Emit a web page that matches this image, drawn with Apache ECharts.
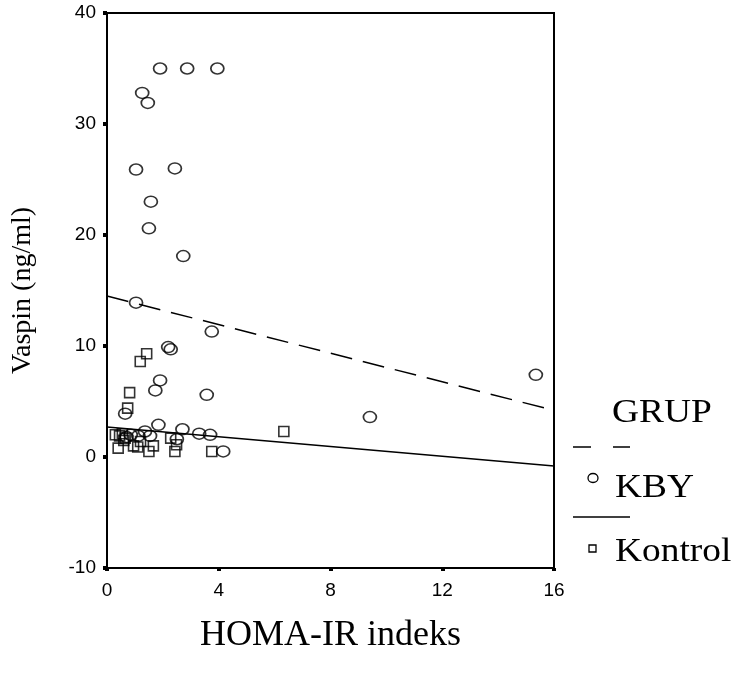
<!DOCTYPE html>
<html>
<head>
<meta charset="utf-8">
<script src="https://cdn.jsdelivr.net/npm/echarts@6/dist/echarts.min.js"></script>
<style>
  html, body { margin: 0; padding: 0; background: #fff; }
  #chart { width: 739px; height: 682px; }
</style>
</head>
<body>
<div id="chart"></div>
<script>
// KBY grubu
const kbyX = [1.90, 2.87, 3.95, 1.26, 1.46, 1.04, 2.43, 1.57, 1.50, 2.73, 1.04, 3.75, 2.19, 2.28, 1.90, 1.73,
  3.57, 0.65, 1.84, 2.70, 3.30, 3.69, 4.16, 1.36, 1.54, 1.12, 2.50, 0.70, 0.85, 9.41, 15.35]
const kbyY = [35.0, 35.0, 35.0, 32.8, 31.9, 25.9, 26.0, 23.0, 20.6, 18.1, 13.9, 11.3, 9.9, 9.7, 6.9, 6.0,
  5.6, 3.9, 2.9, 2.5, 2.1, 2.0, 0.5, 2.3, 1.9, 1.9, 1.6, 1.8, 2.0, 3.6, 7.4]

// Kontrol grubu
const kontrolX = [1.42, 1.19, 0.81, 0.74, 6.33, 0.30, 0.45, 0.55, 0.65, 0.40, 0.95, 1.10, 1.50, 1.66,
  2.28, 2.49, 2.43, 3.75, 0.60, 1.20]
const kontrolY = [9.3, 8.6, 5.8, 4.4, 2.3, 2.0, 1.9, 2.1, 1.7, 0.8, 1.0, 0.9, 0.5, 1.0,
  1.7, 1.1, 0.5, 0.5, 1.5, 1.4]

// fit lines (endpoints read at x=0 and x=16)
const fitX = [0, 16]
const kbyFitY = [14.5, 4.2]
const kontrolFitY = [2.7, -0.8]

const xTicks = [0, 4, 8, 12, 16]
const yTicks = [-10, 0, 10, 20, 30, 40]

const zip = (xs, ys) => xs.map((x, i) => [x, ys[i]])

const chart = echarts.init(document.getElementById('chart'))

const serif = '"Liberation Serif", "DejaVu Serif", serif'
const sans = '"Liberation Sans", Arial, sans-serif'

// legend text is a bit wide in the original
const legendText = (text, top) => ({
    type: 'text', x: 615, y: top, scaleX: 1.1,
    style: { text: text, font: '34px ' + serif, fill: '#000' }
})

const option = {
    animation: false,
    grid: {
        left: 107,
        right: 185,
        top: 13,
        bottom: 114,
        show: true,
        borderColor: '#000',
        borderWidth: 2
    },
    xAxis: {
        type: 'value',
        min: xTicks[0],
        max: xTicks[xTicks.length - 1],
        interval: 4,
        name: 'HOMA-IR indeks',
        nameLocation: 'middle',
        nameGap: 50,
        nameTextStyle: { fontFamily: serif, fontSize: 36, color: '#000' },
        axisLine: { show: true, onZero: false, lineStyle: { color: '#000', width: 2 } },
        axisTick: { show: true, length: 3, lineStyle: { color: '#000', width: 4 } },
        axisLabel: { fontFamily: sans, fontSize: 19, color: '#000', margin: 13 },
        splitLine: { show: false }
    },
    yAxis: {
        type: 'value',
        min: yTicks[0],
        max: yTicks[yTicks.length - 1],
        interval: 10,
        name: 'Vaspin (ng/ml)',
        nameLocation: 'middle',
        nameGap: 70,
        nameTextStyle: { fontFamily: serif, fontSize: 28, color: '#000' },
        axisLine: { show: true, onZero: false, lineStyle: { color: '#000', width: 2 } },
        axisTick: { show: true, length: 4, lineStyle: { color: '#000', width: 4 } },
        // labels sit a little above their ticks in the original
        axisLabel: { fontFamily: sans, fontSize: 19, color: '#000', margin: 11, padding: [0, 0, 10, 0] },
        splitLine: { show: false }
    },
    series: [
        {
            name: 'KBY fit',
            type: 'line',
            data: zip(fitX, kbyFitY),
            symbol: 'none',
            lineStyle: { color: '#000', width: 1.5, type: [22, 11] },
            z: 1
        },
        {
            name: 'Kontrol fit',
            type: 'line',
            data: zip(fitX, kontrolFitY),
            symbol: 'none',
            lineStyle: { color: '#000', width: 1.5 },
            z: 1
        },
        {
            name: 'KBY',
            type: 'scatter',
            data: zip(kbyX, kbyY),
            symbol: 'circle',
            symbolSize: [13, 11],
            itemStyle: { color: 'rgba(0,0,0,0)', borderColor: '#000', borderWidth: 1.6 },
            z: 3
        },
        {
            name: 'Kontrol',
            type: 'scatter',
            data: zip(kontrolX, kontrolY),
            symbol: 'rect',
            symbolSize: 10,
            itemStyle: { color: 'rgba(0,0,0,0)', borderColor: '#000', borderWidth: 1.6 },
            z: 2
        }
    ],
    graphic: [
        { type: 'text', x: 612, y: 396, scaleX: 1.1, style: { text: 'GRUP', font: '34px ' + serif, fill: '#000' } },
        { type: 'line', shape: { x1: 573, y1: 447, x2: 630, y2: 447 },
          style: { stroke: '#000', lineWidth: 1.5, lineDash: [18, 22] } },
        { type: 'ellipse', shape: { cx: 593, cy: 478, rx: 5, ry: 4.5 },
          style: { fill: 'none', stroke: '#000', lineWidth: 1.3 } },
        legendText('KBY', 471),
        { type: 'line', shape: { x1: 573, y1: 517, x2: 630, y2: 517 },
          style: { stroke: '#000', lineWidth: 1.5 } },
        { type: 'rect', shape: { x: 589, y: 545, width: 7, height: 7 },
          style: { fill: 'none', stroke: '#000', lineWidth: 1.3 } },
        legendText('Kontrol', 535)
    ]
}

chart.setOption(option)
</script>
</body>
</html>
